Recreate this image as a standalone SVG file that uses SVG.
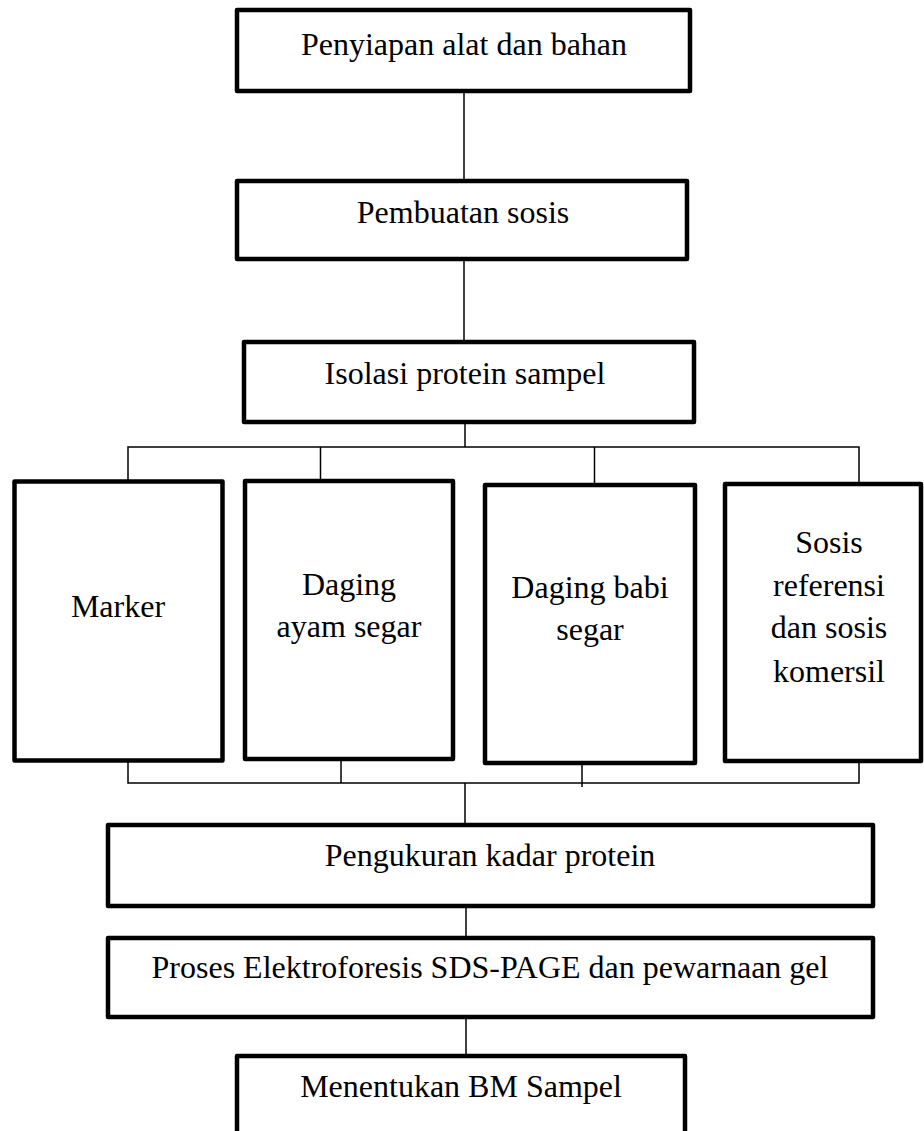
<svg xmlns="http://www.w3.org/2000/svg" width="924" height="1131" viewBox="0 0 924 1131">
<style>
.box{fill:#fff;stroke:#000;stroke-width:4.5;stroke-linejoin:round}
.t{font-size:32px;fill:#000;text-anchor:middle}
.c{fill:none;stroke:#000;stroke-width:1.5}
</style>
<rect width="924" height="1131" fill="#fff"/>
<g id="connectors">
<line class="c" x1="464" y1="91" x2="464" y2="180"/>
<line class="c" x1="464" y1="259" x2="464" y2="342"/>
<line class="c" x1="465" y1="422" x2="465" y2="447"/>
<polyline class="c" points="128,481 128,447 859,447 859,484"/>
<line class="c" x1="320.5" y1="447" x2="320.5" y2="480"/>
<line class="c" x1="594.5" y1="447" x2="594.5" y2="485"/>
<polyline class="c" points="128,760 128,783 859,783 859,762"/>
<line class="c" x1="341" y1="760" x2="341" y2="783"/>
<line class="c" x1="582" y1="763" x2="582" y2="787"/>
<line class="c" x1="465" y1="783" x2="465" y2="825"/>
<line class="c" x1="466" y1="906" x2="466" y2="937"/>
<line class="c" x1="466" y1="1017" x2="466" y2="1057"/>
</g>
<g font-family="Liberation Serif, DejaVu Serif, serif">
<g id="n1"><rect class="box" x="237" y="10" width="453" height="81"/><text class="t" x="464" y="55">Penyiapan alat dan bahan</text></g>
<g id="n2"><rect class="box" x="237" y="181" width="450" height="78"/><text class="t" x="463" y="223">Pembuatan sosis</text></g>
<g id="n3"><rect class="box" x="244" y="342" width="450" height="80"/><text class="t" x="465" y="384">Isolasi protein sampel</text></g>
<g id="n4"><rect class="box" x="14.5" y="481.5" width="208" height="279"/><text class="t" x="118" y="617">Marker</text></g>
<g id="n5"><rect class="box" x="245" y="481" width="208" height="278"/><text class="t" x="349" y="595">Daging</text><text class="t" x="349" y="637">ayam segar</text></g>
<g id="n6"><rect class="box" x="485" y="485" width="210" height="278"/><text class="t" x="590" y="598">Daging babi</text><text class="t" x="590" y="640">segar</text></g>
<g id="n7"><rect class="box" x="725" y="484" width="196" height="277"/><text class="t" x="829" y="553">Sosis</text><text class="t" x="829" y="596">referensi</text><text class="t" x="829" y="638">dan sosis</text><text class="t" x="829" y="682">komersil</text></g>
<g id="n8"><rect class="box" x="108" y="825" width="765" height="81"/><text class="t" x="490" y="866">Pengukuran kadar protein</text></g>
<g id="n9"><rect class="box" x="108" y="938" width="765" height="79"/><text class="t" x="490" y="978">Proses Elektroforesis SDS-PAGE dan pewarnaan gel</text></g>
<g id="n10"><rect class="box" x="237" y="1056" width="448" height="90"/><text class="t" x="461" y="1097">Menentukan BM Sampel</text></g>
</g>
</svg>
